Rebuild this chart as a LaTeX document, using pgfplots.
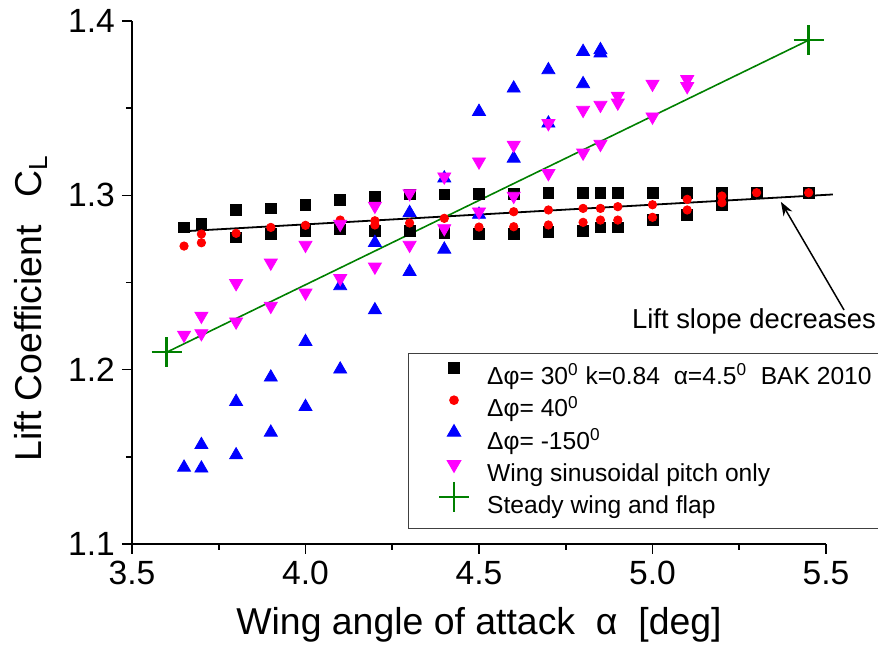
\documentclass[border=0pt]{standalone}
\usepackage{fontspec}
\setmainfont{Liberation Sans}
\usepackage{pgfplots}
\pgfplotsset{compat=1.18}
\usetikzlibrary{calc,arrows.meta}

\definecolor{cgreen}{RGB}{0,128,0}
\definecolor{cmag}{RGB}{255,0,255}

\begin{document}
\begin{tikzpicture}
\begin{axis}[
  scale only axis, width=347pt, height=261.5pt,
  xmin=3.5, xmax=5.5, ymin=1.1, ymax=1.4,
  axis lines*=left, axis line style={line width=1pt},
  tick align=outside, major tick length=5pt, minor tick length=3pt,
  tick style={line width=0.8pt, black},
  xtick={3.5,4,4.5,5,5.5}, ytick={1.1,1.2,1.3,1.4},
  minor x tick num=1, minor y tick num=1,
  /pgf/number format/assume math mode=true,
  xticklabel style={/pgf/number format/.cd, fixed, fixed zerofill, precision=1},
  yticklabel style={/pgf/number format/.cd, fixed, fixed zerofill, precision=1},
  tick label style={font=\fontsize{16.8}{20}\selectfont},
  label style={font=\fontsize{18.7}{22}\selectfont, inner sep=0pt},
  xlabel={Wing angle of attack\ \ α\ \ [deg]},
  ylabel={Lift Coefficient\hspace{0.75em}C\textsubscript{L}},
  xlabel style={at={(axis description cs:0.5,-0.174)}, anchor=base},
  ylabel style={at={(axis description cs:-0.131,0.157)}, anchor=base west},
  clip=false,
  legend style={at={(0.398,0.365)}, anchor=north west, draw=black!75,
    line width=0.6pt, inner xsep=6pt, inner ysep=5pt,
    font=\fontsize{12.3}{14}\selectfont, row sep=3pt,
    cells={anchor=west}, nodes={inner sep=0pt, text height=10.5pt, text depth=2.6pt}},
  legend image code/.code={\path (0pt,0pt) (32pt,0pt);
    \draw[#1, overlay] plot coordinates {(16pt,4.4pt)};},
]
\coordinate (bl) at (rel axis cs:0,0);
\coordinate (tr) at (rel axis cs:1,1);

% dphi = 30
\addplot[only marks, mark=square*, mark size=2.7pt, black] coordinates {
  (3.65,1.2816)(3.70,1.2834)(3.80,1.2916)(3.90,1.2925)(4.00,1.2944)
  (4.10,1.2973)(4.20,1.2989)(4.30,1.3005)(4.40,1.3005)(4.50,1.3010)
  (4.60,1.3010)(4.70,1.3012)(4.80,1.3012)(4.85,1.3012)(4.90,1.3012)
  (5.00,1.3012)(5.10,1.3012)(5.20,1.3012)(5.30,1.3012)(5.45,1.3012)
  (3.80,1.2759)(3.90,1.2778)(4.00,1.2797)(4.10,1.2805)(4.20,1.2797)
  (4.30,1.2797)(4.40,1.2785)(4.50,1.2778)(4.60,1.2778)(4.70,1.2791)
  (4.80,1.2797)(4.85,1.2816)(4.90,1.2816)(5.00,1.2858)(5.10,1.2887)
  (5.20,1.2944)};
\addlegendentry{Δφ= 30\textsuperscript{0} k=0.84\ \ α=4.5\textsuperscript{0}\ \ BAK 2010}

% dphi = 40
\addplot[only marks, mark=*, mark size=2.1pt, red] coordinates {
  (3.65,1.2709)(3.70,1.2778)(3.70,1.2728)(3.80,1.2782)(3.90,1.2816)
  (4.00,1.2828)(4.10,1.2858)(4.20,1.2854)(4.20,1.2830)(4.30,1.2841)
  (4.40,1.2868)(4.50,1.2818)(4.60,1.2906)(4.60,1.2820)(4.70,1.2916)
  (4.70,1.2830)(4.80,1.2925)(4.80,1.2845)(4.85,1.2925)(4.85,1.2858)
  (4.90,1.2935)(4.90,1.2858)(5.00,1.2946)(5.00,1.2874)(5.10,1.2977)
  (5.10,1.2916)(5.20,1.2996)(5.20,1.2958)(5.30,1.3015)(5.45,1.3015)};
\addlegendentry{Δφ= 40\textsuperscript{0}}

% dphi = -150
\addplot[only marks, mark=triangle*, mark size=3.75pt, blue] coordinates {
  (3.65,1.1439)(3.70,1.1569)(3.70,1.1434)(3.80,1.1816)(3.80,1.1510)
  (3.90,1.1956)(3.90,1.1640)(4.00,1.2160)(4.00,1.1787)(4.10,1.2480)
  (4.10,1.2002)(4.20,1.2728)(4.20,1.2342)(4.30,1.2900)(4.30,1.2562)
  (4.40,1.3098)(4.40,1.2690)(4.50,1.3480)(4.50,1.2890)(4.60,1.3614)
  (4.60,1.3212)(4.70,1.3719)(4.70,1.3413)(4.80,1.3824)(4.80,1.3639)
  (4.85,1.3834)(4.85,1.3815)};
\addlegendentry{Δφ= -150\textsuperscript{0}}

% wing pitch only
\addplot[only marks, mark=triangle*, mark size=3.75pt, cmag,
  mark options={rotate=180}] coordinates {
  (3.65,1.2199)(3.70,1.2308)(3.70,1.2208)(3.80,1.2495)(3.80,1.2275)
  (3.90,1.2613)(3.90,1.2365)(4.00,1.2715)(4.00,1.2441)(4.10,1.2835)
  (4.10,1.2524)(4.20,1.2939)(4.20,1.2590)(4.30,1.3011)(4.30,1.2715)
  (4.40,1.3107)(4.40,1.2810)(4.50,1.3193)(4.50,1.2906)(4.60,1.3289)
  (4.60,1.2996)(4.70,1.3413)(4.70,1.3126)(4.80,1.3489)(4.80,1.3244)
  (4.85,1.3518)(4.85,1.3294)(4.90,1.3570)(4.90,1.3531)(5.00,1.3639)
  (5.00,1.3451)(5.10,1.3665)(5.10,1.3625)};
\addlegendentry{Wing sinusoidal pitch only}

% fit lines
\addplot[black, line width=0.9pt, forget plot] coordinates {(3.66,1.2795)(5.52,1.3005)};
\addplot[cgreen, line width=0.8pt, forget plot] coordinates {(3.60,1.2100)(5.45,1.3890)};

% steady wing and flap
\addplot[only marks, mark=+, mark size=7.5pt, cgreen, line width=1.2pt] coordinates {
  (3.60,1.2100)(5.45,1.3890)};
\addlegendentry{Steady wing and flap}

\node[font=\fontsize{13.7}{16}\selectfont, inner sep=0pt] at (axis cs:5.2925,1.2279)
  {Lift slope decreases};
\draw[line width=0.75pt, -{Stealth[length=7pt, width=5pt]}]
  (axis cs:5.552,1.2342) -- (axis cs:5.370,1.2963);
\end{axis}
\pgfresetboundingbox
\path ($(bl)+(-66pt,-54pt)$) rectangle ($(tr)+(26pt,10.5pt)$);
\end{tikzpicture}
\end{document}
